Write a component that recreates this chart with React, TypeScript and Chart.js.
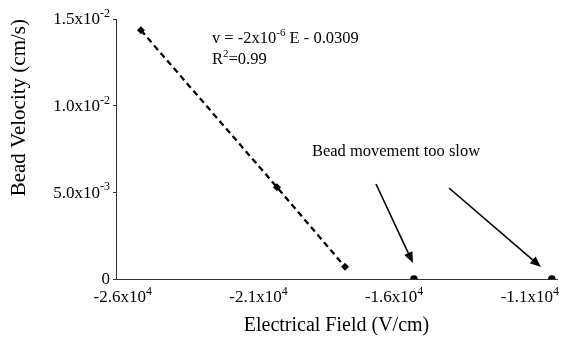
import React, { useEffect, useRef } from "react";
import { Chart, registerables } from "chart.js";

Chart.register(...registerables);

// ---- data ----
const fieldFit = [-25330, -20320, -17810];
const velocityFit = [0.01435, 0.0053, 0.0007];
const fieldSlow = [-15270, -10190];
const velocitySlow = [0, 0];

// tick values and labels (mantissa part + superscript exponent)
const xTickValues = [-26000, -21000, -16000, -11000];
const xTickBase = ["-2.6x10", "-2.1x10", "-1.6x10", "-1.1x10"];
const xTickExp = ["4", "4", "4", "4"];
const yTickValues = [0, 0.005, 0.01, 0.015];
const yTickBase = ["0", "5.0x10", "1.0x10", "1.5x10"];
const yTickExp = ["", "-3", "-2", "-2"];

const xTitle = "Electrical Field (V/cm)";
const yTitle = "Bead Velocity (cm/s)";

// annotation texts (segments: [text, isSuperscript])
const equationParts: [string, boolean][] = [["v = -2x10", false], ["-6", true], [" E - 0.0309", false]];
const rSquaredParts: [string, boolean][] = [["R", false], ["2", true], ["=0.99", false]];
const noteText = "Bead movement too slow";

// annotation anchors in data units [E, v]
const equationAnchor = [-22713, 0.01385];
const rSquaredAnchor = [-22713, 0.01264];
const noteAnchor = [-19030, 0.00733];
const arrowTails = [[-16670, 0.00548], [-13980, 0.00525]];
const arrowTips = [[-15307, 0.00092], [-10590, 0.00069]];

const FONT = "'Liberation Serif', 'Times New Roman', serif";
const TICK_SIZE = 17;
const NOTE_SIZE = 16.5;

function richWidth(ctx: CanvasRenderingContext2D, parts: [string, boolean][], size: number) {
  let w = 0;
  for (const [t, sup] of parts) {
    ctx.font = `${sup ? Math.round(size * 0.68) : size}px ${FONT}`;
    w += ctx.measureText(t).width;
  }
  return w;
}

function drawRich(ctx: CanvasRenderingContext2D, parts: [string, boolean][], x: number, y: number, size: number) {
  let cx = x;
  for (const [t, sup] of parts) {
    if (sup) {
      ctx.font = `${Math.round(size * 0.68)}px ${FONT}`;
      ctx.fillText(t, cx, y - size * 0.36);
    } else {
      ctx.font = `${size}px ${FONT}`;
      ctx.fillText(t, cx, y);
    }
    cx += ctx.measureText(t).width;
  }
}

function drawArrow(ctx: CanvasRenderingContext2D, x1: number, y1: number, x2: number, y2: number) {
  const ang = Math.atan2(y2 - y1, x2 - x1);
  const headLen = 11;
  const headW = 4.5;
  const bx = x2 - headLen * Math.cos(ang);
  const by = y2 - headLen * Math.sin(ang);
  ctx.beginPath();
  ctx.moveTo(x1, y1);
  ctx.lineTo(bx, by);
  ctx.lineWidth = 1.6;
  ctx.strokeStyle = "#000";
  ctx.stroke();
  ctx.beginPath();
  ctx.moveTo(x2, y2);
  ctx.lineTo(bx + headW * Math.sin(ang), by - headW * Math.cos(ang));
  ctx.lineTo(bx - headW * Math.sin(ang), by + headW * Math.cos(ang));
  ctx.closePath();
  ctx.fillStyle = "#000";
  ctx.fill();
}

// draws tick labels (with superscript exponents) at the scales' own tick positions
const tickLabelPlugin = {
  id: "tickLabels",
  afterDraw(chart: any) {
    const ctx: CanvasRenderingContext2D = chart.ctx;
    const xs = chart.scales.x;
    const ys = chart.scales.y;
    ctx.save();
    ctx.fillStyle = "#000";
    ctx.textAlign = "left";
    ctx.textBaseline = "middle";
    for (const t of xs.ticks) {
      const i = xTickValues.indexOf(t.value);
      if (i < 0) continue;
      const parts: [string, boolean][] = [[xTickBase[i], false], [xTickExp[i], true]];
      const w = richWidth(ctx, parts, TICK_SIZE);
      drawRich(ctx, parts, xs.getPixelForValue(t.value) - w / 2, xs.top + 19, TICK_SIZE);
    }
    for (const t of ys.ticks) {
      const i = yTickValues.findIndex((v) => Math.abs(v - t.value) < 1e-9);
      if (i < 0) continue;
      const parts: [string, boolean][] = [[yTickBase[i], false], [yTickExp[i], true]];
      const w = richWidth(ctx, parts, TICK_SIZE);
      drawRich(ctx, parts, ys.right - 6 - w, ys.getPixelForValue(t.value) + 1, TICK_SIZE);
    }
    ctx.restore();
  },
};

const annotationPlugin = {
  id: "annotations",
  afterDatasetsDraw(chart: any) {
    const ctx: CanvasRenderingContext2D = chart.ctx;
    const xs = chart.scales.x;
    const ys = chart.scales.y;
    const px = (v: number) => xs.getPixelForValue(v);
    const py = (v: number) => ys.getPixelForValue(v);
    ctx.save();
    ctx.fillStyle = "#000";
    ctx.textAlign = "left";
    ctx.textBaseline = "middle";
    drawRich(ctx, equationParts, px(equationAnchor[0]), py(equationAnchor[1]), NOTE_SIZE);
    drawRich(ctx, rSquaredParts, px(rSquaredAnchor[0]), py(rSquaredAnchor[1]), NOTE_SIZE);
    ctx.font = `${NOTE_SIZE}px ${FONT}`;
    ctx.fillText(noteText, px(noteAnchor[0]), py(noteAnchor[1]));
    for (let i = 0; i < arrowTails.length; i++) {
      drawArrow(ctx, px(arrowTails[i][0]), py(arrowTails[i][1]), px(arrowTips[i][0]), py(arrowTips[i][1]));
    }
    ctx.restore();
  },
};

const whiteBg = {
  id: "whiteBg",
  beforeDraw(chart: any) {
    const ctx = chart.ctx;
    ctx.save();
    ctx.fillStyle = "#fff";
    ctx.fillRect(0, 0, chart.width, chart.height);
    ctx.restore();
  },
};

export default function App() {
  const ref = useRef<HTMLCanvasElement | null>(null);
  useEffect(() => {
    if (!ref.current) return;
    const chart = new Chart(ref.current, {
      type: "scatter",
      data: {
        datasets: [
          {
            label: "fit",
            data: fieldFit.map((e, i) => ({ x: e, y: velocityFit[i] })),
            showLine: true,
            borderColor: "#000",
            borderWidth: 2.3,
            borderDash: [6, 4],
            pointStyle: "rectRot",
            pointRadius: 4,
            pointBackgroundColor: "#000",
            pointBorderColor: "#000",
            pointBorderWidth: 0,
          },
          {
            label: "slow",
            data: fieldSlow.map((e, i) => ({ x: e, y: velocitySlow[i] })),
            showLine: false,
            pointStyle: "circle",
            pointRadius: 3.8,
            pointBackgroundColor: "#000",
            pointBorderColor: "#000",
            pointBorderWidth: 0,
          },
        ],
      },
      options: {
        responsive: false,
        animation: false,
        devicePixelRatio: 1,
        layout: { padding: { top: 19, right: 4, left: 0, bottom: 0 } },
        plugins: { legend: { display: false }, tooltip: { enabled: false } },
        scales: {
          x: {
            type: "linear",
            min: -26250,
            max: -10000,
            afterFit: (s: any) => { s.height = 66; },
            afterBuildTicks: (s: any) => { s.ticks = xTickValues.map((v) => ({ value: v })); },
            border: { color: "#333", width: 1 },
            grid: { display: true, drawOnChartArea: false, drawTicks: false },
            ticks: { display: false },
            title: {
              display: true,
              text: xTitle,
              color: "#000",
              font: { family: FONT, size: 20 },
              padding: { top: 0, bottom: 7 },
            },
          },
          y: {
            type: "linear",
            min: 0,
            max: 0.015,
            afterFit: (s: any) => { s.width = 116; },
            afterBuildTicks: (s: any) => { s.ticks = yTickValues.map((v) => ({ value: v })); },
            border: { color: "#333", width: 1 },
            grid: { display: true, drawOnChartArea: false, drawTicks: true, tickLength: 3, color: "#333" },
            ticks: { display: false },
            title: {
              display: true,
              text: yTitle,
              align: "end",
              color: "#000",
              font: { family: FONT, size: 21 },
              padding: { top: 7, bottom: 0 },
            },
          },
        },
      },
      plugins: [whiteBg, annotationPlugin, tickLabelPlugin],
    } as any);
    return () => chart.destroy();
  }, []);
  return (
    <div style={{ position: "fixed", left: 0, top: 0, width: 561, height: 345, background: "#fff" }}>
      <canvas ref={ref} width={561} height={345} style={{ width: 561, height: 345 }} />
    </div>
  );
}
